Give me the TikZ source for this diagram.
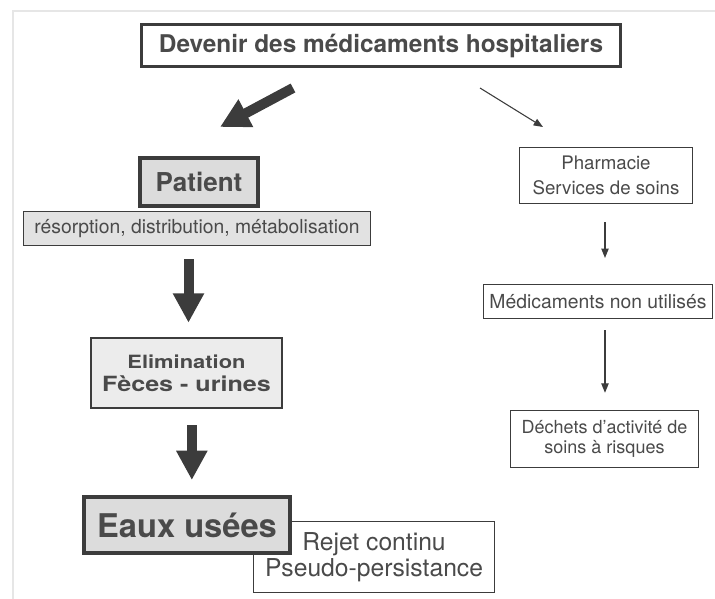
\documentclass[tikz,border=0pt]{standalone}
\usepackage{fontspec}
\setmainfont{TeX Gyre Heros}
\newfontfamily\widefont{TeX Gyre Heros}[FakeStretch=1.2]
\usetikzlibrary{arrows.meta}
\definecolor{ink}{HTML}{4A4A4A}
\definecolor{edge}{HTML}{3C3C3C}
\definecolor{fillA}{HTML}{DCDCDC}
\definecolor{fillB}{HTML}{E2E2E2}
\definecolor{fillC}{HTML}{ECECEC}
\definecolor{frame}{HTML}{E6E6E6}
\tikzset{
  box/.style={draw=edge, text=ink, inner sep=0pt, align=center},
  bigarrow/.style={draw=edge, line width=7.5pt, -{Triangle[width=22pt,length=22pt]}},
  thinarrow/.style={draw=edge, line width=0.8pt, -{Triangle[width=5.5pt,length=7pt]}}
}
\begin{document}
\begin{tikzpicture}[x=0.75pt,y=-0.75pt]
\useasboundingbox (0,0) rectangle (715,599);
% faint scan frame
\draw[frame, line width=1pt] (13,599) -- (13,11) -- (715,11);

\node[box, line width=2.3pt, minimum width=359pt, minimum height=31.5pt,
      font=\bfseries\fontsize{18.3}{21}\selectfont] (title) at (381,45.5) {Devenir des médicaments hospitaliers};

\node[box, line width=3pt, fill=fillA, minimum width=88.5pt, minimum height=36pt,
      font=\bfseries\fontsize{19.5}{22}\selectfont] (patient) at (199,182) {Patient};

\node[box, line width=0.9pt, fill=fillB, minimum width=260pt, minimum height=25.5pt,
      font=\fontsize{14.5}{16}\selectfont] (res) at (197,228.5) {résorption, distribution, métabolisation};

\node[box, line width=1.9pt, fill=fillC, minimum width=143pt, minimum height=52.5pt,
      font=\widefont\bfseries\fontsize{15.7}{17.5}\selectfont] (elim) at (186.5,373)
  {{\fontsize{13.7}{17.5}\selectfont Elimination}\\Fèces - urines};

\node[box, line width=0.8pt, fill=white, minimum width=181pt, minimum height=53pt,
      font=\fontsize{18.5}{19.5}\selectfont] (rejet) at (374,557) {Rejet continu\\Pseudo-persistance};

\node[box, line width=3.4pt, fill=fillA, minimum width=154.5pt, minimum height=42pt,
      font=\bfseries\fontsize{24.5}{28}\selectfont] (eaux) at (187,525) {Eaux usées};

\node[box, line width=0.8pt, minimum width=130pt, minimum height=42pt,
      font=\fontsize{14}{18.5}\selectfont] (pharm) at (606,175.5) {Pharmacie\\Services de soins};

\node[box, line width=0.8pt, minimum width=172pt, minimum height=25.5pt,
      font=\fontsize{14.5}{16}\selectfont] (med) at (598,301.5) {Médicaments non utilisés};

\node[box, line width=0.8pt, minimum width=141pt, minimum height=43pt,
      font=\fontsize{13.5}{15.5}\selectfont] (dech) at (604.5,439) {Déchets d'activité de\\soins à risques};

% connectors
\coordinate (a1s) at (293,88);
\coordinate (a1e) at (220,127);
\coordinate (a2s) at (480,88);
\coordinate (a2e) at (543,127);
\draw[bigarrow] (a1s) -- (a1e);
\draw[thinarrow] (a2s) -- (a2e);

\draw[bigarrow, shorten <=9.75pt, shorten >=10.5pt] ([xshift=1.5pt]elim.north |- res.south) -- ([xshift=1.5pt]elim.north);
\draw[bigarrow, shorten <=12pt, shorten >=11pt] ([xshift=4pt]elim.south) -- ([xshift=4pt]elim.south |- eaux.north);

\draw[thinarrow, shorten <=13.5pt, shorten >=19.5pt] ([xshift=-0.75pt]pharm.south) -- ([xshift=-0.75pt]pharm.south |- med.north);
\draw[thinarrow, shorten <=8.25pt, shorten >=12.75pt] ([xshift=-0.75pt]pharm.south |- med.south) -- ([xshift=-0.75pt]pharm.south |- dech.north);
\end{tikzpicture}
\end{document}
